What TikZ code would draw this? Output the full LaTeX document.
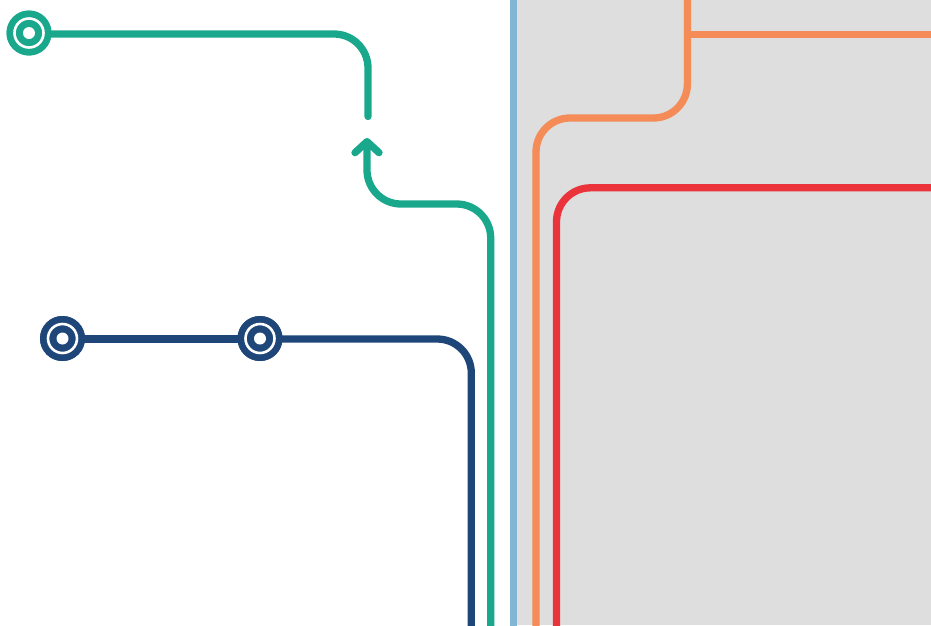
\documentclass[tikz,border=0pt]{standalone}
\usetikzlibrary{arrows.meta}
\definecolor{cteal}{HTML}{1AA88D}
\definecolor{cnavy}{HTML}{1E4679}
\definecolor{cblue}{HTML}{82B6D3}
\definecolor{corange}{HTML}{F58C58}
\definecolor{cred}{HTML}{EA333B}
\definecolor{cgray}{HTML}{DEDEDE}
\tikzset{
  metro/.style={line width=7.3pt, rounded corners=34pt},
  stationmark/.style={circle, inner sep=0pt, minimum size=45pt, fill=#1,
    path picture={
      \draw[white, line width=2.6pt] (path picture bounding box.center) circle (14.5pt);
      \fill[white] (path picture bounding box.center) circle (6pt);
    }},
}
\begin{document}
\begin{tikzpicture}[x=1pt,y=-1pt]
\useasboundingbox (0,0) rectangle (931,625);
\fill[cgray] (513,0) rectangle (931,625);
\node[stationmark=cteal] (m1) at (29,33) {};
\node[stationmark=cnavy] (m2) at (62.5,338.5) {};
\node[stationmark=cnavy] (m3) at (260,338.5) {};
\coordinate (t1) at (368,34);
\coordinate (t2) at (368,116.5);
\coordinate (t3) at (367,138);
\coordinate (t4) at (367,204);
\coordinate (t5) at (490.7,204);
\coordinate (t6) at (490.7,626);
\coordinate (n1) at (471.3,339);
\coordinate (n2) at (471.3,626);
\coordinate (b1) at (513.3,-1);
\coordinate (b2) at (513.3,626);
\coordinate (o1) at (687.4,-1);
\coordinate (o2) at (687.4,118);
\coordinate (o3) at (536,118);
\coordinate (o4) at (536,626);
\coordinate (o5) at (687.4,34.5);
\coordinate (o6) at (932,34.5);
\coordinate (r1) at (932,187.8);
\coordinate (r2) at (556.5,187.8);
\coordinate (r3) at (556.5,626);
\draw[metro, cblue] (b1) -- (b2);
\draw[metro, corange] (o1) -- (o2) -- (o3) -- (o4);
\draw[metro, corange] (o5) -- (o6);
\draw[metro, cred] (r1) -- (r2) -- (r3);
\draw[metro, cnavy] (m2 |- n1) -- (m3 |- n1);
\draw[metro, cnavy] (m3 |- n1) -- (n1) -- (n2);
\draw[metro, cteal, line cap=round] (m1 |- t1) -- (t1) -- (t2);
\draw[metro, cteal, {Straight Barb[round,length=11pt,width=24pt]}-] (t3) -- (t4) -- (t5) -- (t6);
\node[stationmark=cteal] at (m1) {};
\node[stationmark=cnavy] at (m2) {};
\node[stationmark=cnavy] at (m3) {};
\end{tikzpicture}
\end{document}
